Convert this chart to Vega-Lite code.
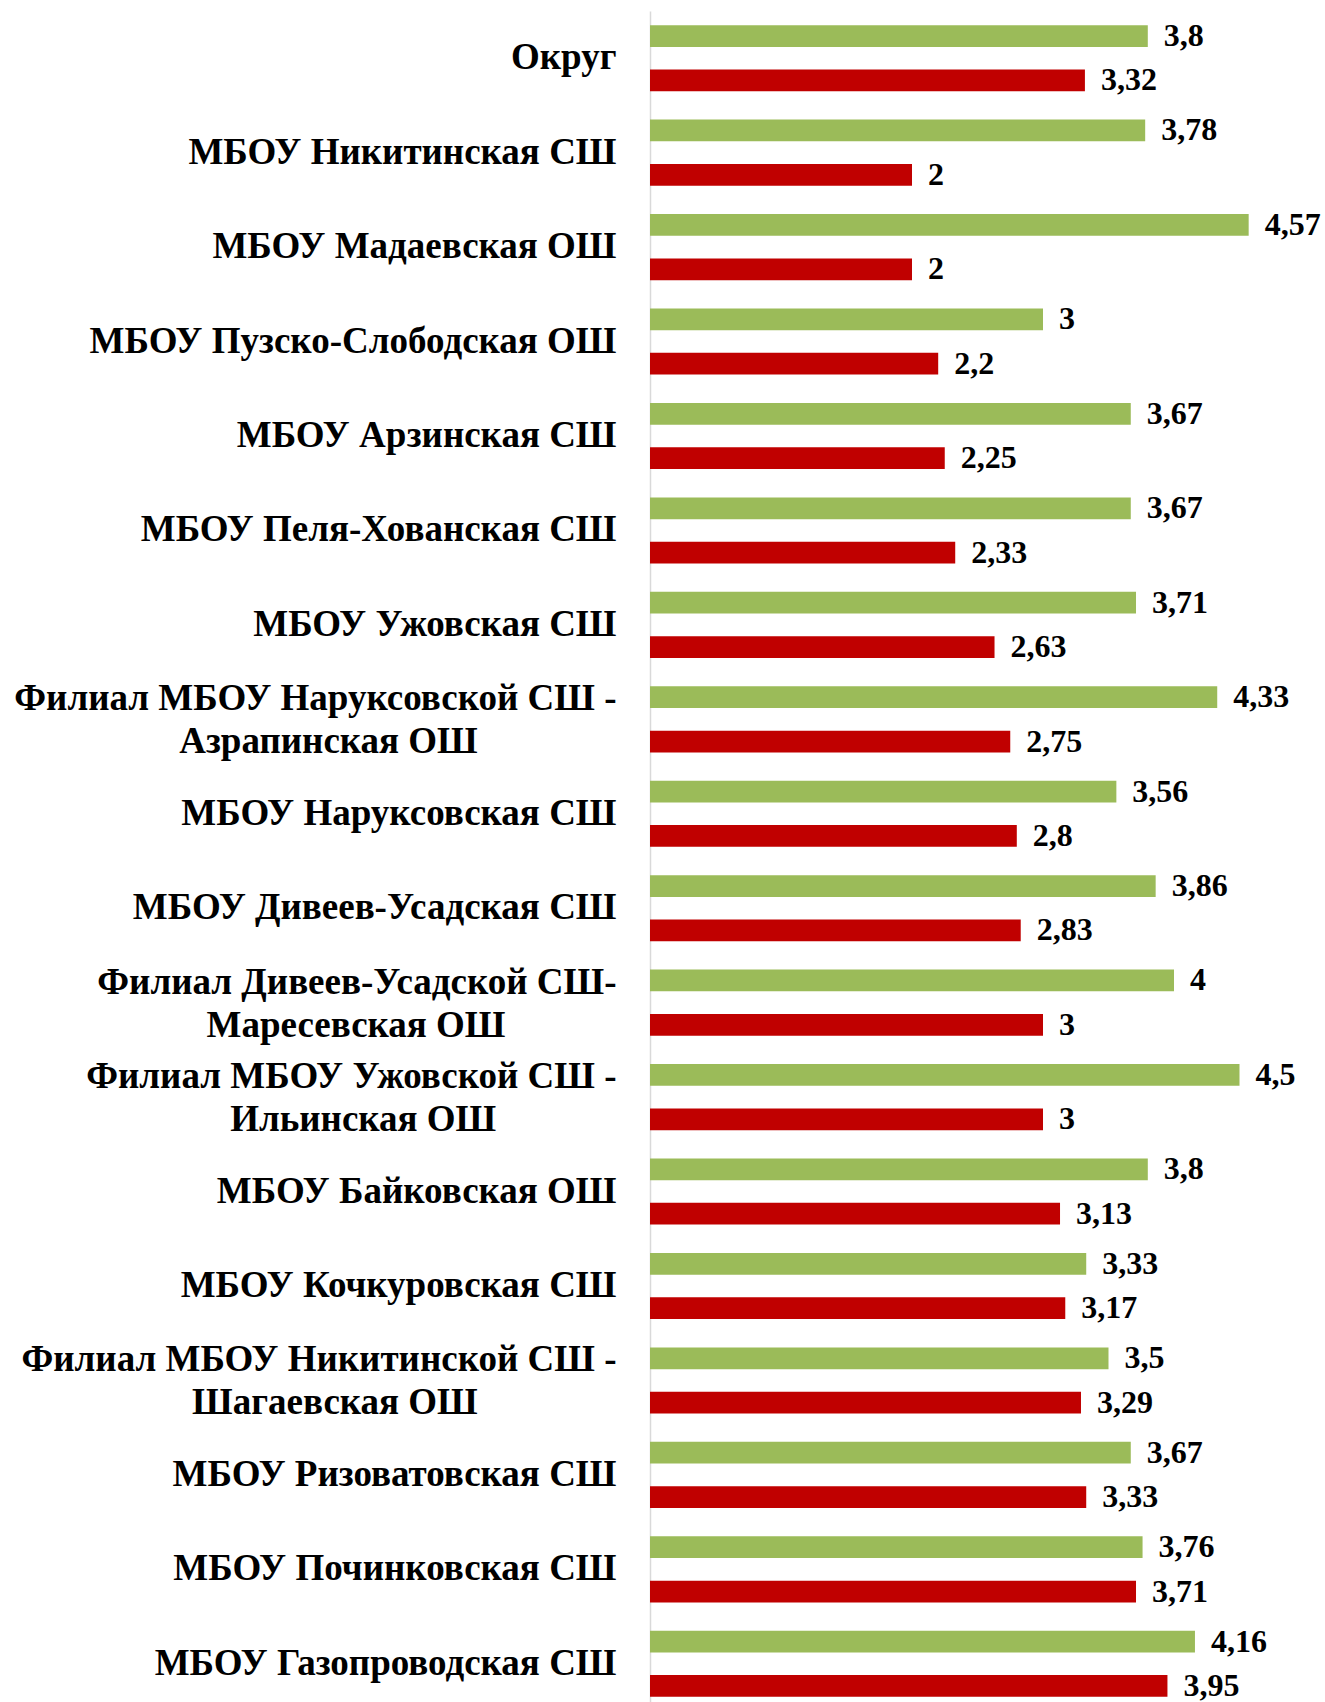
{
  "$schema": "https://vega.github.io/schema/vega-lite/v6.json",
  "autosize": {"type": "none"},
  "padding": {"left": 650, "top": 11, "right": 20, "bottom": 0},
  "width": 655,
  "height": 1700,
  "background": "white",
  "config": {
    "view": {"stroke": null},
    "locale": {"number": {"decimal": ",", "thousands": " ", "grouping": [3], "currency": ["", ""]}},
    "font": "Liberation Serif"
  },
  "data": {"values": [
    {"school": "Округ", "series": "1", "value": 3.8},
    {"school": "Округ", "series": "2", "value": 3.32},
    {"school": "МБОУ Никитинская СШ", "series": "1", "value": 3.78},
    {"school": "МБОУ Никитинская СШ", "series": "2", "value": 2},
    {"school": "МБОУ Мадаевская ОШ", "series": "1", "value": 4.57},
    {"school": "МБОУ Мадаевская ОШ", "series": "2", "value": 2},
    {"school": "МБОУ Пузско-Слободская ОШ", "series": "1", "value": 3},
    {"school": "МБОУ Пузско-Слободская ОШ", "series": "2", "value": 2.2},
    {"school": "МБОУ Арзинская СШ", "series": "1", "value": 3.67},
    {"school": "МБОУ Арзинская СШ", "series": "2", "value": 2.25},
    {"school": "МБОУ Пеля-Хованская СШ", "series": "1", "value": 3.67},
    {"school": "МБОУ Пеля-Хованская СШ", "series": "2", "value": 2.33},
    {"school": "МБОУ Ужовская СШ", "series": "1", "value": 3.71},
    {"school": "МБОУ Ужовская СШ", "series": "2", "value": 2.63},
    {"school": "Филиал МБОУ Наруксовской СШ - Азрапинская ОШ", "series": "1", "value": 4.33},
    {"school": "Филиал МБОУ Наруксовской СШ - Азрапинская ОШ", "series": "2", "value": 2.75},
    {"school": "МБОУ Наруксовская СШ", "series": "1", "value": 3.56},
    {"school": "МБОУ Наруксовская СШ", "series": "2", "value": 2.8},
    {"school": "МБОУ Дивеев-Усадская СШ", "series": "1", "value": 3.86},
    {"school": "МБОУ Дивеев-Усадская СШ", "series": "2", "value": 2.83},
    {"school": "Филиал Дивеев-Усадской СШ- Маресевская ОШ", "series": "1", "value": 4},
    {"school": "Филиал Дивеев-Усадской СШ- Маресевская ОШ", "series": "2", "value": 3},
    {"school": "Филиал МБОУ Ужовской СШ - Ильинская ОШ", "series": "1", "value": 4.5},
    {"school": "Филиал МБОУ Ужовской СШ - Ильинская ОШ", "series": "2", "value": 3},
    {"school": "МБОУ Байковская ОШ", "series": "1", "value": 3.8},
    {"school": "МБОУ Байковская ОШ", "series": "2", "value": 3.13},
    {"school": "МБОУ Кочкуровская СШ", "series": "1", "value": 3.33},
    {"school": "МБОУ Кочкуровская СШ", "series": "2", "value": 3.17},
    {"school": "Филиал МБОУ Никитинской СШ - Шагаевская ОШ", "series": "1", "value": 3.5},
    {"school": "Филиал МБОУ Никитинской СШ - Шагаевская ОШ", "series": "2", "value": 3.29},
    {"school": "МБОУ Ризоватовская СШ", "series": "1", "value": 3.67},
    {"school": "МБОУ Ризоватовская СШ", "series": "2", "value": 3.33},
    {"school": "МБОУ Починковская СШ", "series": "1", "value": 3.76},
    {"school": "МБОУ Починковская СШ", "series": "2", "value": 3.71},
    {"school": "МБОУ Газопроводская СШ", "series": "1", "value": 4.16},
    {"school": "МБОУ Газопроводская СШ", "series": "2", "value": 3.95}
  ]},
  "encoding": {
    "y": {
      "field": "school", "type": "nominal", "sort": null,
      "scale": {"paddingInner": 0.3, "paddingOuter": 0.15},
      "axis": {
        "title": null, "ticks": false, "domain": true, "domainColor": "#D9D9D9", "domainWidth": 1.5,
        "labelFont": "Liberation Serif", "labelFontWeight": "bold", "labelFontSize": 37, "labelColor": "black",
        "labelPadding": 34, "labelLimit": 700, "labelLineHeight": 43,
        "labelOffset": {"condition": {"test": "indexof(datum.value,'Филиал')==0", "value": -20}, "value": 0},
        "labelExpr": "indexof(datum.label,'Филиал')==0 ? [slice(datum.label,0,lastindexof(datum.label,'-')+1), pad(trim(slice(datum.label,lastindexof(datum.label,'-')+1)), lastindexof(datum.label,'-')+1, '\u00a0', 'right') + '\u200b'] : datum.label"
      }
    },
    "yOffset": {"field": "series", "type": "nominal", "scale": {"paddingInner": 0.51, "paddingOuter": 0}},
    "x": {"field": "value", "type": "quantitative", "scale": {"domain": [0, 5], "nice": false}, "axis": null}
  },
  "layer": [
    {
      "mark": {"type": "bar"},
      "encoding": {
        "color": {"field": "series", "type": "nominal", "scale": {"domain": ["1", "2"], "range": ["#9BBB59", "#C00000"]}, "legend": null}
      }
    },
    {
      "mark": {"type": "text", "align": "left", "baseline": "middle", "dx": 16, "font": "Liberation Serif", "fontWeight": "bold", "fontSize": 32, "color": "black"},
      "encoding": {
        "text": {"field": "value", "type": "quantitative", "format": ".3~r"}
      }
    }
  ]
}
